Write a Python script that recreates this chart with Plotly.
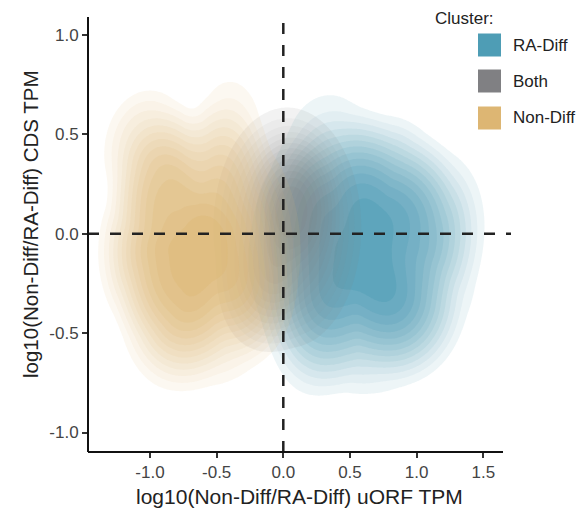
import numpy as np
import plotly.graph_objects as go

# ---- data: density components
# (centre x, centre y, reach x, reach y, weight) for each cluster
clusters = ["RA-Diff", "Both", "Non-Diff"]
colors = {"RA-Diff": (78, 157, 181), "Both": (128, 128, 131), "Non-Diff": (221, 182, 115)}

ra_cx = [0.60, 0.35, 0.80, 1.20, 0.20, 0.95, 0.10]
ra_cy = [-0.12, 0.40, 0.30, 0.10, -0.50, -0.45, 0.10]
ra_rx = [1.00, 0.50, 0.50, 0.45, 0.40, 0.45, 0.35]
ra_ry = [0.80, 0.45, 0.40, 0.45, 0.45, 0.35, 0.40]
ra_w = [1.00, 0.22, 0.20, 0.20, 0.22, 0.20, 0.15]

both_cx = [0.03, 0.10, -0.20]
both_cy = [0.03, 0.20, -0.32]
both_rx = [0.66, 0.40, 0.40]
both_ry = [0.72, 0.40, 0.38]
both_w = [1.00, 0.30, 0.25]

nd_cx = [-0.60, -1.00, -0.40, -0.85, -1.10, -0.20]
nd_cy = [-0.08, 0.40, 0.50, -0.50, -0.10, -0.35]
nd_rx = [0.85, 0.45, 0.35, 0.45, 0.40, 0.35]
nd_ry = [0.80, 0.42, 0.40, 0.40, 0.45, 0.35]
nd_w = [1.00, 0.40, 0.22, 0.22, 0.22, 0.15]

x_ticks = [-1.0, -0.5, 0.0, 0.5, 1.0, 1.5]
y_ticks = [-1.0, -0.5, 0.0, 0.5, 1.0]
x_title = "log10(Non-Diff/RA-Diff) uORF TPM"
y_title = "log10(Non-Diff/RA-Diff) CDS TPM"

params = {
    "RA-Diff": (ra_cx, ra_cy, ra_rx, ra_ry, ra_w),
    "Both": (both_cx, both_cy, both_rx, both_ry, both_w),
    "Non-Diff": (nd_cx, nd_cy, nd_rx, nd_ry, nd_w),
}
max_alpha = {"RA-Diff": 0.9, "Both": 0.7, "Non-Diff": 0.88}

XR = [-1.465, 1.708]
YR = [-1.098, 1.0906]
gx = np.linspace(XR[0], XR[1], 260)
gy = np.linspace(YR[0], YR[1], 260)
GX, GY = np.meshgrid(gx, gy)


def density(cx, cy, rx, ry, w):
    z = np.zeros_like(GX)
    for a, b, c, d, e in zip(cx, cy, rx, ry, w):
        u2 = ((GX - a) / c) ** 2 + ((GY - b) / d) ** 2
        z += e * np.clip(1 - u2, 0, None) ** 2
    return z / z.max()


NLEV = 13
START, SIZE = 0.07, 0.07

fig = go.Figure()
for name in clusters:
    r, g, b = colors[name]
    # plotly stacks the nested level fills, so convert target (effective) alpha to per-layer alpha
    cs = [[0.0, f"rgba({r},{g},{b},0)"]]
    prev = 0.0
    for k in range(1, NLEV + 1):
        eff = 0.1 + (k - 1) * (max_alpha[name] - 0.1) / (NLEV - 1)
        a = 1 - (1 - eff) / (1 - prev)
        prev = eff
        cs.append([k / NLEV, f"rgba({r},{g},{b},{a:.4f})"])
    fig.add_trace(go.Contour(
        x=gx, y=gy, z=density(*params[name]),
        contours=dict(start=START, end=START + SIZE * (NLEV - 1) + 1e-6, size=SIZE,
                      coloring="fill", showlines=False),
        line=dict(width=0), colorscale=cs, showscale=False,
        hoverinfo="skip", name=name,
    ))

L, R, T, B = 88, 70, 17, 68
W, H = 581, 520
PW, PH = W - L - R, H - T - B


def px(xp):
    return (xp - L) / PW


def py(yp):
    return 1 - (yp - T) / PH


shapes = [
    dict(type="line", xref="x", yref="paper", x0=0, x1=0, y0=0, y1=1,
         line=dict(color="#222", width=2.5, dash="11px,11px")),
    dict(type="line", xref="paper", yref="y", x0=0, x1=1, y0=0, y1=0,
         line=dict(color="#222", width=2.5, dash="11px,11px")),
    dict(type="line", xref="paper", yref="paper", x0=0, x1=px(503), y0=0, y1=0,
         line=dict(color="#111", width=2)),
    dict(type="line", xref="paper", yref="paper", x0=0, x1=0, y0=0, y1=1,
         line=dict(color="#111", width=2)),
]

annotations = [
    dict(text=x_title, xref="paper", yref="paper", x=px(299), y=py(496), showarrow=False,
         font=dict(size=21, color="#222"), xanchor="center", yanchor="middle"),
    dict(text=y_title, xref="paper", yref="paper", x=px(30), y=py(224), showarrow=False,
         font=dict(size=20.5, color="#222"), textangle=-90, xanchor="center", yanchor="middle"),
    dict(text="Cluster:", xref="paper", yref="paper", x=px(433), y=py(18), showarrow=False,
         font=dict(size=17, color="#222"), xanchor="left", yanchor="middle"),
]

leg_y = [45, 81, 118]
for name, yc in zip(clusters, leg_y):
    r, g, b = colors[name]
    shapes.append(dict(type="rect", xref="paper", yref="paper",
                       x0=px(478), x1=px(501), y0=py(yc - 11.5), y1=py(yc + 11.5),
                       fillcolor=f"rgb({r},{g},{b})", line=dict(width=0)))
    annotations.append(dict(text=name, xref="paper", yref="paper", x=px(511), y=py(yc),
                            showarrow=False, font=dict(size=17, color="#222"),
                            xanchor="left", yanchor="middle"))

fig.update_layout(
    width=W, height=H,
    margin=dict(l=L, r=R, t=T, b=B),
    paper_bgcolor="white", plot_bgcolor="white",
    font=dict(family="Liberation Sans, Arial, sans-serif"),
    showlegend=False,
    shapes=shapes, annotations=annotations,
    xaxis=dict(range=XR, tickvals=x_ticks, ticktext=[f"{v:.1f}" for v in x_ticks],
               showgrid=False, zeroline=False, showline=False,
               ticks="outside", ticklen=5, tickwidth=1.5, tickcolor="#333",
               tickfont=dict(size=17, color="#444")),
    yaxis=dict(range=YR, tickvals=y_ticks, ticktext=[f"{v:.1f}" for v in y_ticks],
               showgrid=False, zeroline=False, showline=False,
               ticks="outside", ticklen=5, tickwidth=1.5, tickcolor="#333",
               tickfont=dict(size=17, color="#444")),
)

fig.write_html("out.html")
